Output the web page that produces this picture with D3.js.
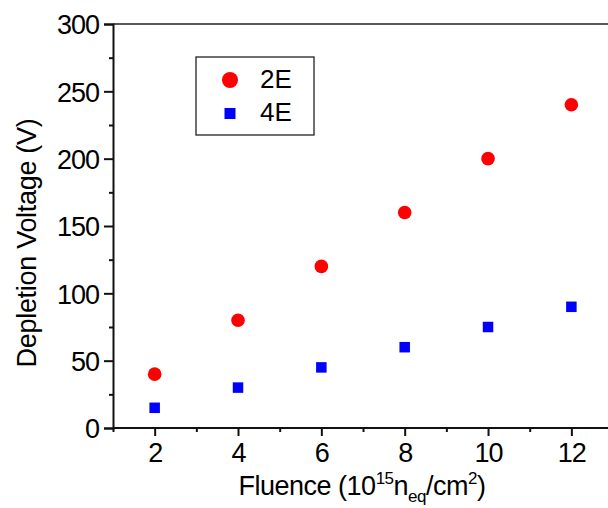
<!DOCTYPE html>
<html>
<head>
<meta charset="utf-8">
<script src="https://cdn.jsdelivr.net/npm/d3@7/dist/d3.min.js"></script>
<style>
  html, body { margin: 0; padding: 0; background: #fff; }
  svg { display: block; font-family: "Liberation Sans", Arial, sans-serif; }
</style>
</head>
<body>
<svg id="chart" width="608" height="508"></svg>
<script>
// Fluence points (10^15 n_eq/cm^2)
const fluence = [2, 4, 6, 8, 10, 12];
// Depletion voltage (V) per sample type
const series2E = [40, 80, 120, 160, 200, 240];
const series4E = [15, 30, 45, 60, 75, 90];
const seriesNames = ["2E", "4E"];
const xTicks = [2, 4, 6, 8, 10, 12];
const yTicks = [0, 50, 100, 150, 200, 250, 300];

const svg = d3.select("#chart");
const plotLeft = 113, plotTop = 24, plotBottom = 428;

const x = d3.scaleLinear().domain([1, 13]).range([plotLeft, plotLeft + 12 * 41.67]);
const y = d3.scaleLinear().domain([0, 300]).range([plotBottom, plotTop]);

// top frame line
svg.append("line")
  .attr("x1", plotLeft).attr("x2", 608)
  .attr("y1", plotTop).attr("y2", plotTop)
  .attr("stroke", "#222").attr("stroke-width", 1.5);

// x axis with major and minor ticks
const xMinor = d3.range(1, 14).filter(v => v % 2 === 1);
const gx = svg.append("g").attr("transform", `translate(0,${plotBottom})`);
gx.append("g").call(d3.axisBottom(x).tickValues(xMinor).tickSize(4).tickFormat(""))
  .call(g => g.select(".domain").remove());
gx.append("g").call(d3.axisBottom(x).tickValues(xTicks).tickSize(8).tickPadding(7).tickFormat(d3.format("d")))
  .call(g => g.select(".domain").attr("d", `M${plotLeft},0H608`));

// y axis with major and minor ticks
const yMinor = d3.range(25, 300, 50);
const gy = svg.append("g").attr("transform", `translate(${plotLeft},0)`);
gy.append("g").call(d3.axisLeft(y).tickValues(yMinor).tickSize(4).tickFormat(""))
  .call(g => g.select(".domain").remove());
gy.append("g").call(d3.axisLeft(y).tickValues(yTicks).tickSize(9).tickPadding(5).tickFormat(d3.format("d")));

svg.selectAll(".domain, .tick line").attr("stroke", "#111").attr("stroke-width", 2);
svg.selectAll(".tick text").attr("font-size", 27).attr("fill", "#000")
  .attr("letter-spacing", -1)
  .attr("font-family", "'Liberation Sans', Arial, sans-serif");
gx.selectAll(".tick text").attr("dy", "0.71em");
gy.selectAll(".tick text").attr("dy", "0.36em");

// data markers
svg.append("g").selectAll("circle").data(fluence).join("circle")
  .attr("cx", (d) => x(d))
  .attr("cy", (d, i) => y(series2E[i]))
  .attr("r", 6.8)
  .attr("fill", "#ff0000");

const sq = 10.5;
svg.append("g").selectAll("rect").data(fluence).join("rect")
  .attr("x", (d) => x(d) - sq / 2)
  .attr("y", (d, i) => y(series4E[i]) - sq / 2)
  .attr("width", sq).attr("height", sq)
  .attr("fill", "#0000ff");

// legend
const lg = svg.append("g");
lg.append("rect").attr("x", 196).attr("y", 57).attr("width", 118).attr("height", 78)
  .attr("fill", "none").attr("stroke", "#222").attr("stroke-width", 1.3);
lg.append("circle").attr("cx", 230).attr("cy", 80).attr("r", 8).attr("fill", "#ff0000");
lg.append("rect").attr("x", 224.5).attr("y", 108).attr("width", 11).attr("height", 11).attr("fill", "#0000ff");
lg.selectAll("text").data(seriesNames).join("text")
  .attr("x", 260).attr("y", (d, i) => 88 + i * 33)
  .attr("font-size", 26).text(d => d);

// axis titles
const xt = svg.append("text")
  .attr("x", 362).attr("y", 495)
  .attr("text-anchor", "middle").attr("font-size", 27)
  .attr("letter-spacing", -0.5);
xt.append("tspan").text("Fluence (10");
xt.append("tspan").attr("font-size", 17).attr("dy", -11).text("15");
xt.append("tspan").attr("dy", 11).text("n");
xt.append("tspan").attr("font-size", 17).attr("dy", 7).text("eq");
xt.append("tspan").attr("dy", -7).text("/cm");
xt.append("tspan").attr("font-size", 17).attr("dy", -11).text("2");
xt.append("tspan").attr("dy", 11).text(")");

svg.append("text")
  .attr("transform", "translate(36,243) rotate(-90)")
  .attr("text-anchor", "middle").attr("font-size", 27)
  .attr("letter-spacing", -0.3)
  .text("Depletion Voltage (V)");
</script>
</body>
</html>
